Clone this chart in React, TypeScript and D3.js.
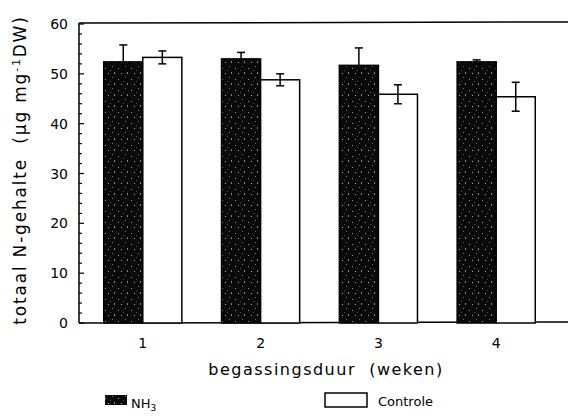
import React from "react";
import * as d3 from "d3";

const weeks = ["1", "2", "3", "4"];
const series = ["NH3", "Controle"];
const nh3Values = [52.4, 53.0, 51.7, 52.4];
const nh3Errors = [3.4, 1.3, 3.5, 0.4];
const controleValues = [53.3, 48.8, 45.9, 45.4];
const controleErrors = [1.3, 1.2, 1.9, 2.9];
const yTicks = [0, 10, 20, 30, 40, 50, 60];

const W = 568;
const H = 416;
const left = 79;
const top = 24;
const bottom = 323;

export default function App() {
  const x = d3.scaleBand<string>().domain(weeks).range([left, 560]).paddingInner(0.337).paddingOuter(0.21);
  const xs = d3.scaleBand<string>().domain(series).range([0, x.bandwidth()]);
  const y = d3.scaleLinear().domain([0, 60]).range([bottom, top]);
  const minor = d3.range(0, 61, 2);
  const font = "'DejaVu Sans', sans-serif";
  const rows = weeks.map((w, i) => ({
    w,
    vals: [
      { s: "NH3", v: nh3Values[i], e: nh3Errors[i] },
      { s: "Controle", v: controleValues[i], e: controleErrors[i] },
    ],
  }));
  return (
    <svg width={W} height={H} style={{ position: "absolute", left: 0, top: 0, background: "#fff" }}>
      <defs>
        <pattern id="speck" width="13" height="11" patternUnits="userSpaceOnUse">
          <rect width="13" height="11" fill="#0a0a0a" />
          <rect x="1" y="2" width="1" height="1" fill="#999" />
          <rect x="8" y="0" width="1" height="1" fill="#777" />
          <rect x="10" y="6" width="1" height="2" fill="#888" />
          <rect x="4" y="7" width="1" height="1" fill="#aaa" />
          <rect x="6" y="4" width="1" height="1" fill="#555" />
        </pattern>
      </defs>
      {/* frame */}
      <line x1={left} x2={W} y1={top - 1} y2={top - 2} stroke="#000" strokeWidth={1.5} />
      <line x1={left} x2={W} y1={bottom} y2={bottom - 1} stroke="#000" strokeWidth={1.5} />
      <line x1={left} x2={left} y1={top - 1} y2={bottom} stroke="#000" strokeWidth={1.5} />
      {minor.map((t) => (
        <line key={t} x1={left} x2={left + (t % 10 === 0 ? 5 : 3)} y1={y(t)} y2={y(t)} stroke="#000" strokeWidth={1.2} />
      ))}
      {yTicks.map((t) => (
        <text key={t} x={68} y={y(t)} dy="0.36em" textAnchor="end" fontFamily={font} fontSize={14}>
          {t}
        </text>
      ))}
      {rows.map((r) => (
        <g key={r.w}>
          {r.vals.map((d) => {
            const bx = (x(r.w) as number) + (xs(d.s) as number);
            const bw = xs.bandwidth();
            const cx = bx + bw / 2;
            return (
              <g key={d.s}>
                <rect
                  x={bx}
                  y={y(d.v)}
                  width={bw}
                  height={y(0) - y(d.v)}
                  fill={d.s === "NH3" ? "url(#speck)" : "#fff"}
                  stroke="#000"
                  strokeWidth={1.5}
                />
                <line x1={cx} x2={cx} y1={y(d.v + d.e)} y2={y(d.v - d.e)} stroke="#000" strokeWidth={1.5} />
                <line x1={cx - 4} x2={cx + 4} y1={y(d.v + d.e)} y2={y(d.v + d.e)} stroke="#000" strokeWidth={1.5} />
                <line x1={cx - 4} x2={cx + 4} y1={y(d.v - d.e)} y2={y(d.v - d.e)} stroke="#000" strokeWidth={1.5} />
              </g>
            );
          })}
          <text x={(x(r.w) as number) + x.bandwidth() / 2} y={348} textAnchor="middle" fontFamily={font} fontSize={14}>
            {r.w}
          </text>
        </g>
      ))}
      <text x={326} y={375} textAnchor="middle" fontFamily={font} fontSize={16} letterSpacing={1.5}>
        begassingsduur&#160;&#160;(weken)
      </text>
      <text
        transform={`translate(26,170) rotate(-90)`}
        textAnchor="middle"
        fontFamily={font}
        fontSize={17}
        letterSpacing={1.8}
      >
        totaal N-gehalte&#160;&#160;(μg mg<tspan dy={-6} fontSize={11}>-1</tspan>
        <tspan dy={6}>DW)</tspan>
      </text>
      {/* legend */}
      <rect x={105} y={395} width={22} height={10} fill="url(#speck)" />
      <text x={131} y={408} fontFamily={font} fontSize={13}>
        NH<tspan dy={3} fontSize={9}>3</tspan>
      </text>
      <rect x={325} y={393} width={42} height={14} fill="#fff" stroke="#000" strokeWidth={1.5} />
      <text x={378} y={406} fontFamily={font} fontSize={13}>
        Controle
      </text>
    </svg>
  );
}
